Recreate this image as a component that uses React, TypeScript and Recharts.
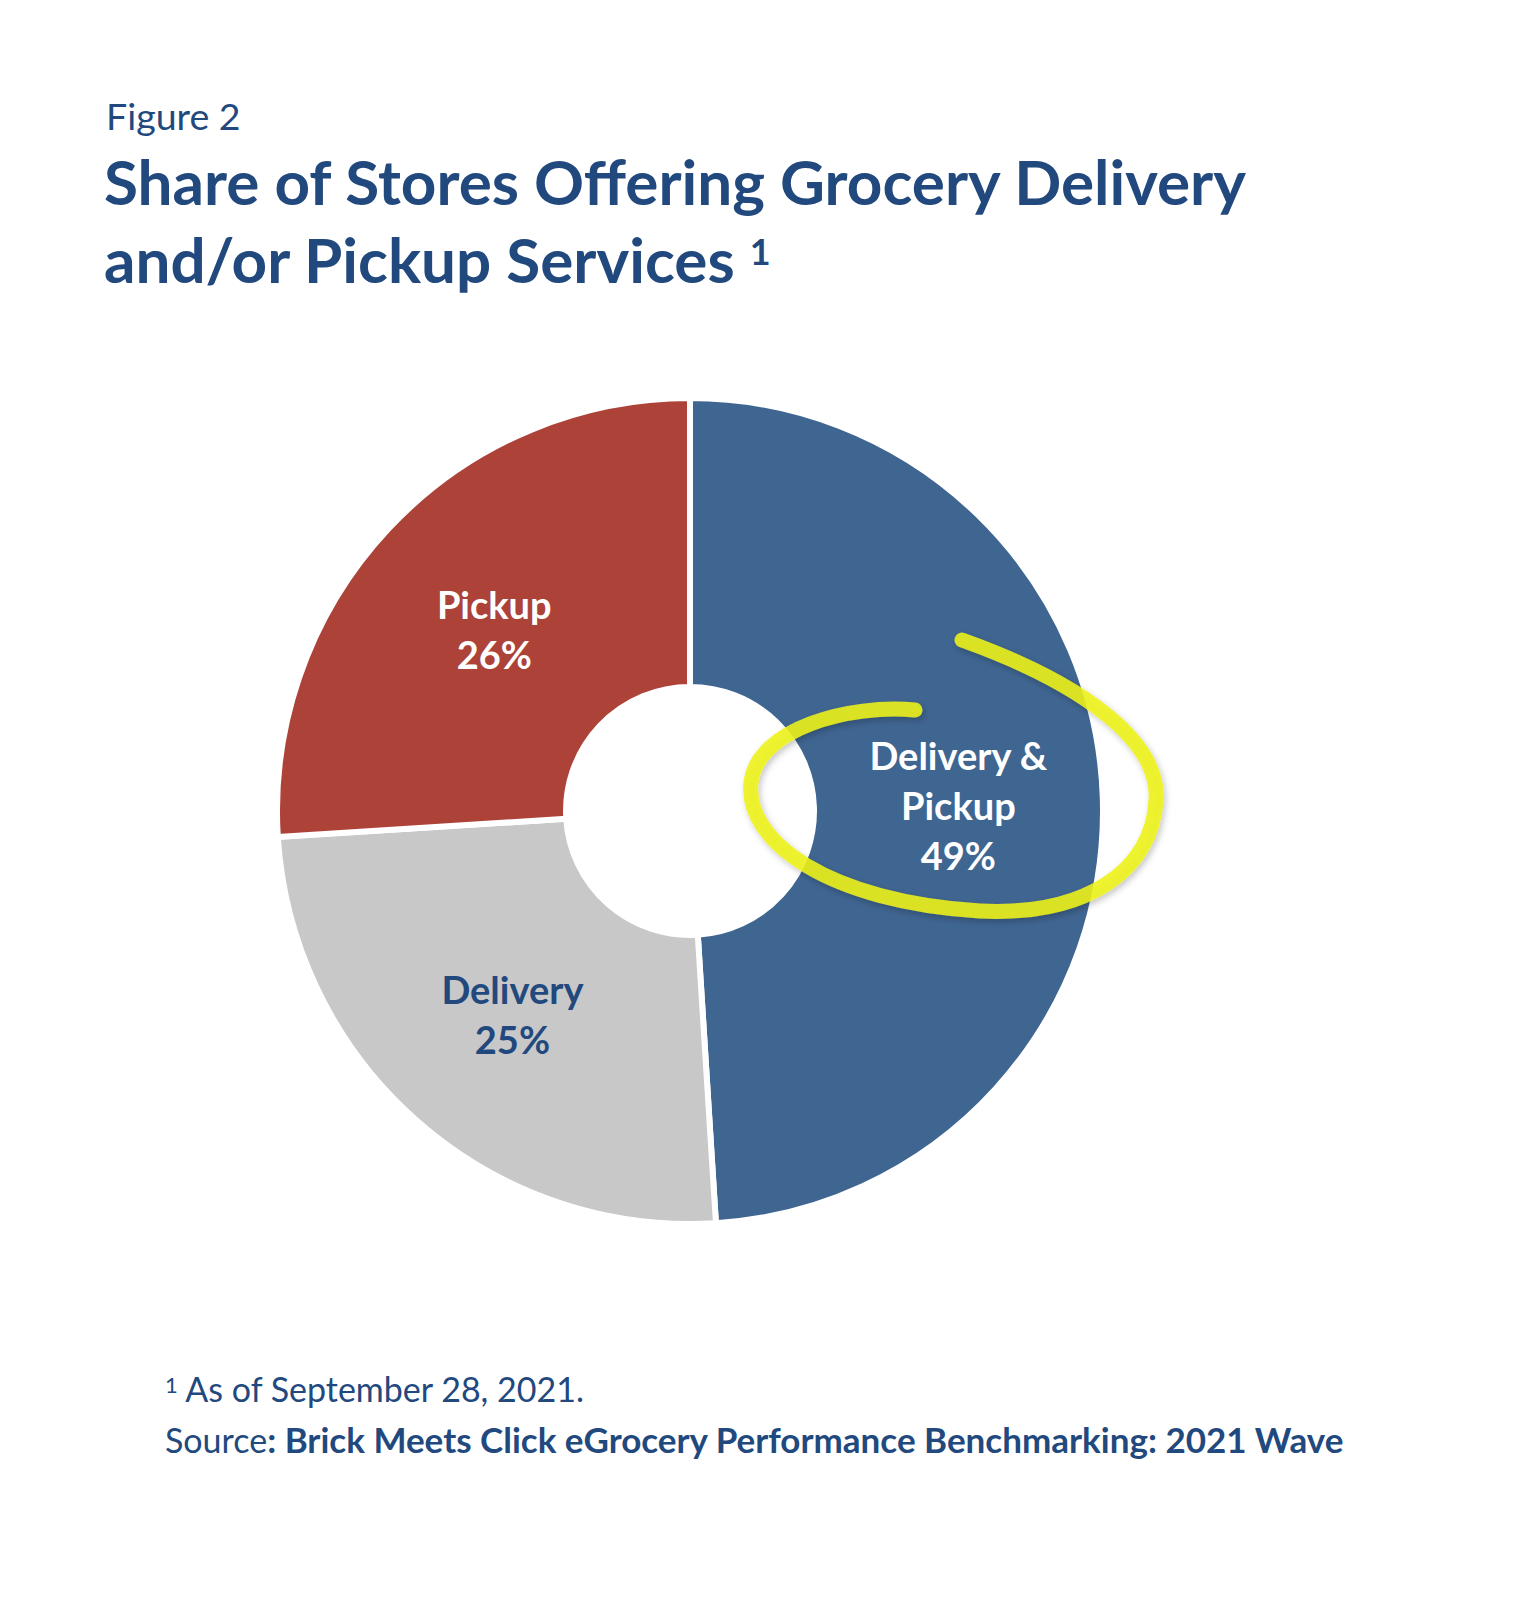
import React from "react";
import { PieChart, Pie, Cell } from "recharts";

const categories = ["Delivery & Pickup", "Delivery", "Pickup"];
const shares = [49, 25, 26];
const labelLines = [["Delivery &", "Pickup"], ["Delivery"], ["Pickup"]];

const sliceColors = ["#3F6591", "#C8C8C8", "#AD4338"];
const labelColors = ["#FFFFFF", "#22497E", "#FFFFFF"];
const ink = "#22497E";
const font = "Lato, 'Open Sans', sans-serif";

const data = categories.map((name, i) => ({ name, value: shares[i] }));

const RAD = Math.PI / 180;

function SliceLabel(props: any) {
  const { cx, cy, midAngle, innerRadius, outerRadius, index, value } = props;
  const r = (innerRadius + outerRadius) / 2;
  const x = cx + r * Math.cos(-midAngle * RAD);
  const y = cy + r * Math.sin(-midAngle * RAD);
  const lines = [...labelLines[index], `${value}%`];
  const lh = 50;
  const first = y - ((lines.length - 1) * lh) / 2 + 17;
  return (
    <text
      x={x}
      y={first}
      textAnchor="middle"
      fill={labelColors[index]}
      fontFamily={font}
      fontWeight={700}
      fontSize={38}
    >
      {lines.map((t, i) => (
        <tspan key={i} x={x} y={first + i * lh}>
          {t}
        </tspan>
      ))}
    </text>
  );
}

export default function App() {
  return (
    <div style={{ position: "absolute", left: 0, top: 0, width: 1538, height: 1618, background: "#fff", fontFamily: font, color: ink }}>
      <div style={{ position: "absolute", left: 0, top: 0 }}>
        <PieChart width={1538} height={1618} margin={{ top: 0, right: 0, bottom: 0, left: 0 }}>
          <Pie
            data={data}
            dataKey="value"
            nameKey="name"
            cx={690}
            cy={811}
            innerRadius={124}
            outerRadius={413}
            startAngle={90}
            endAngle={-270}
            stroke="#fff"
            strokeWidth={6}
            label={SliceLabel}
            labelLine={false}
            isAnimationActive={false}
          >
            {data.map((d, i) => (
              <Cell key={d.name} fill={sliceColors[i]} />
            ))}
          </Pie>
        </PieChart>
      </div>

      <svg width={1538} height={1618} style={{ position: "absolute", left: 0, top: 0, pointerEvents: "none" }}>
        <defs>
          <filter id="soft" x="-20%" y="-20%" width="140%" height="140%">
            <feDropShadow dx="2" dy="3" stdDeviation="3" floodColor="#000" floodOpacity="0.25" />
          </filter>
        </defs>
        <path
          d="M 915 710 C 850 704, 758 728, 751 782 C 744 842, 830 902, 980 911 C 1085 916, 1152 872, 1156 800 C 1160 742, 1085 684, 962 640"
          fill="none"
          stroke="#EEF21A"
          strokeOpacity={0.88}
          strokeWidth={15}
          strokeLinecap="round"
          filter="url(#soft)"
        />
      </svg>

      <div style={{ position: "absolute", left: 106, top: 96, fontSize: 37.5, lineHeight: "40px", whiteSpace: "nowrap" }}>
        Figure 2
      </div>
      <div style={{ position: "absolute", left: 104, top: 142, fontSize: 62, fontWeight: 700, lineHeight: "78px", whiteSpace: "nowrap" }}>
        Share of Stores Offering Grocery Delivery
        <br />
        and/or Pickup Services <sup style={{ fontSize: 36, verticalAlign: "top", position: "relative", top: -8 }}>1</sup>
      </div>

      <div style={{ position: "absolute", left: 165, top: 1364, fontSize: 34, lineHeight: "50px", whiteSpace: "nowrap" }}>
        <sup style={{ fontSize: 22, verticalAlign: "top", position: "relative", top: -4 }}>1</sup> As of September 28, 2021.
        <br />
        Source<b style={{ fontSize: 35 }}>: Brick Meets Click eGrocery Performance Benchmarking: 2021 Wave</b>
      </div>
    </div>
  );
}
